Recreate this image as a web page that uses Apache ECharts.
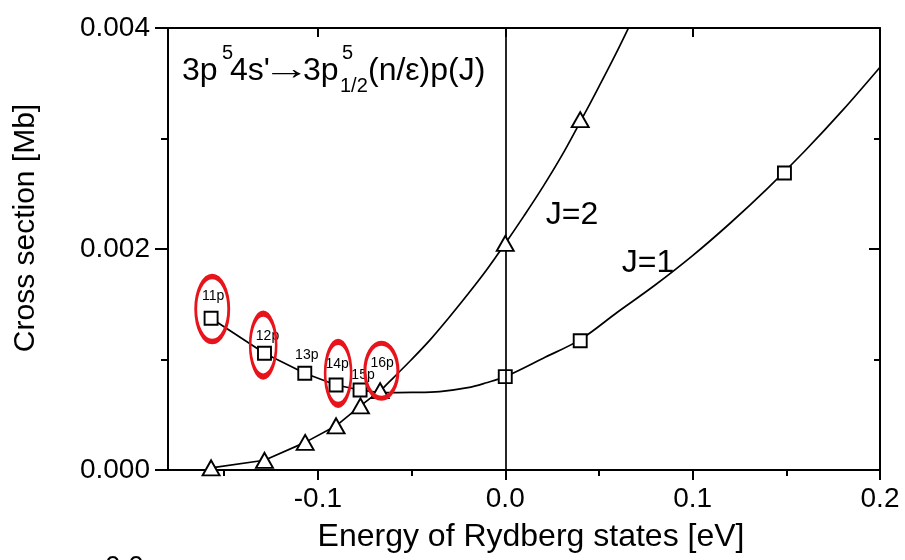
<!DOCTYPE html>
<html>
<head>
<meta charset="utf-8">
<script src="https://cdn.jsdelivr.net/npm/echarts@6/dist/echarts.min.js"></script>
<style>
  html, body { margin: 0; padding: 0; background: #fff; }
  #chart { width: 905px; height: 560px; }
</style>
</head>
<body>
<div id="chart"></div>
<script>
// ---- data ----
const j1Energy = [-0.157, -0.1285, -0.107, -0.0903, -0.0775, 0.0, 0.04, 0.149];
const j1Cross  = [0.001373, 0.001056, 0.000875, 0.000769, 0.000724, 0.000845, 0.00117, 0.002688];
const j1States = ['11p', '12p', '13p', '14p', '15p', '', '', ''];

const j2Energy = [-0.157, -0.1285, -0.1068, -0.0903, -0.0773, -0.0668, 0.0, 0.04];
const j2Cross  = [0.00002, 0.000088, 0.00025, 0.0004, 0.00058, 0.000718, 0.00205, 0.00317];
const j2States = ['', '', '', '', '', '16p', '', ''];

const j1FitEnergy = [-0.067, -0.05, -0.035, -0.02, -0.01, 0.0, 0.02, 0.04, 0.06, 0.08, 0.1, 0.12, 0.14, 0.16, 0.18, 0.2];
const j1FitCross  = [0.0007, 0.000702, 0.00071, 0.000745, 0.00079, 0.000845, 0.00101, 0.00118, 0.00143, 0.001674, 0.00194, 0.002233, 0.002549, 0.002889, 0.003254, 0.003645];

const j2FitEnergy = [-0.067, -0.06, -0.05, -0.04, -0.03, -0.02, -0.01, 0.0, 0.01, 0.02, 0.03, 0.04, 0.05, 0.06, 0.07];
const j2FitCross  = [0.00071, 0.00083, 0.001, 0.00118, 0.00138, 0.00159, 0.00181, 0.00205, 0.0023, 0.00256, 0.00284, 0.00315, 0.00347, 0.0038, 0.00415];

// highlighted states (red ellipses), centres in data units
const circledStates = ['11p', '12p', '14p', '16p'];
const circledEnergy = [-0.1564, -0.1292, -0.0892, -0.0661];
const circledCross  = [0.001457, 0.001131, 0.000875, 0.000898];

const xTickValues = [-0.1, 0.0, 0.1, 0.2];
const xMinorTickValues = [-0.15, -0.05, 0.05, 0.15];
const xTopTickValues = [-0.1, 0.0, 0.1];

// ---- styles ----
const FONT = "'Liberation Sans', Arial, Helvetica, sans-serif";
const BLACK = '#000';
const RED = '#e8141c';
const j1LabelOffsets = [[2, -6], [3, -1], [2, -2], [1, -4], [3, 2], [0, 0], [0, 0], [0, 0]];
const j2LabelOffsets = [[0, 0], [0, 0], [0, 0], [0, 0], [0, 0], [2, -10], [0, 0], [0, 0]];
const ellipseSizes = [[33, 65], [26, 63], [26, 63], [33, 55]];

const zip = (xs, ys) => xs.map((x, i) => [x, ys[i]]);

const j1Link = zip(j1Energy, j1Cross).filter(p => p[0] < -0.07).concat([[j1FitEnergy[0], j1FitCross[0]]]);
const j2Link = zip(j2Energy, j2Cross).filter(p => p[0] < -0.06);

const markerData = (xs, ys, names, offsets) => xs.map((x, i) => ({
  value: [x, ys[i]],
  label: names[i] ? { show: true, formatter: names[i], offset: offsets[i] } : { show: false }
}));

const chart = echarts.init(document.getElementById('chart'), null, { renderer: 'canvas' });

const xMin = -0.18, xMax = 0.2;
const axisLineStyle = { color: BLACK, width: 2 };

const option = {
  backgroundColor: '#fff',
  animation: false,
  textStyle: { fontFamily: FONT },
  grid: { left: 168, right: 25, top: 28, bottom: 90, containLabel: false },
  xAxis: [
    {
      type: 'value', position: 'bottom', min: xMin, max: xMax,
      axisLine: { show: true, onZero: false, lineStyle: axisLineStyle },
      axisTick: { show: true, customValues: xTickValues, length: 10, inside: false, lineStyle: axisLineStyle },
      axisLabel: {
        show: true, customValues: xTickValues, margin: 15,
        fontSize: 28, color: BLACK, fontFamily: FONT,
        formatter: v => Number(v).toFixed(1)
      },
      splitLine: { show: false }
    },
    {
      type: 'value', position: 'bottom', min: xMin, max: xMax,
      axisLine: { show: false },
      axisTick: { show: true, customValues: xMinorTickValues, length: 6, inside: false, lineStyle: axisLineStyle },
      axisLabel: { show: false },
      splitLine: { show: false }
    },
    {
      type: 'value', position: 'top', min: xMin, max: xMax,
      axisLine: { show: true, onZero: false, lineStyle: axisLineStyle },
      axisTick: { show: true, customValues: xTopTickValues, length: 9, inside: true, lineStyle: axisLineStyle },
      axisLabel: { show: false },
      splitLine: { show: false }
    },
    {
      type: 'value', position: 'top', min: xMin, max: xMax,
      axisLine: { show: false },
      axisTick: { show: true, customValues: xMinorTickValues, length: 6, inside: true, lineStyle: axisLineStyle },
      axisLabel: { show: false },
      splitLine: { show: false }
    }
  ],
  yAxis: [
    {
      type: 'value', position: 'left', min: 0, max: 0.004, interval: 0.002,
      axisLine: { show: true, onZero: false, lineStyle: axisLineStyle },
      axisTick: { show: true, length: 13, inside: false, lineStyle: axisLineStyle },
      minorTick: { show: true, splitNumber: 2, length: 7, lineStyle: axisLineStyle },
      axisLabel: {
        show: true, margin: 18, fontSize: 28, color: BLACK, fontFamily: FONT,
        formatter: v => Number(v).toFixed(3)
      },
      splitLine: { show: false }, minorSplitLine: { show: false }
    },
    {
      type: 'value', position: 'right', min: 0, max: 0.004, interval: 0.002,
      axisLine: { show: true, onZero: false, lineStyle: axisLineStyle },
      axisTick: { show: true, length: 11, inside: true, lineStyle: axisLineStyle },
      minorTick: { show: true, splitNumber: 2, length: 6, lineStyle: axisLineStyle },
      axisLabel: { show: false },
      splitLine: { show: false }, minorSplitLine: { show: false }
    }
  ],
  series: [
    {
      name: 'J=1 fit', type: 'line', xAxisIndex: 0, yAxisIndex: 0,
      data: zip(j1FitEnergy, j1FitCross), smooth: 0.35, symbol: 'none',
      lineStyle: { color: BLACK, width: 1.7 }, z: 2,
      markLine: {
        silent: true, symbol: ['none', 'none'], label: { show: false },
        lineStyle: { color: BLACK, width: 1.7, type: 'solid' },
        data: [{ xAxis: 0 }]
      }
    },
    {
      name: 'J=2 fit', type: 'line', xAxisIndex: 0, yAxisIndex: 0,
      data: zip(j2FitEnergy, j2FitCross), smooth: 0.35, symbol: 'none', clip: true,
      lineStyle: { color: BLACK, width: 1.7 }, z: 2
    },
    {
      name: 'J=1 link', type: 'line', xAxisIndex: 0, yAxisIndex: 0,
      data: j1Link, symbol: 'none', lineStyle: { color: BLACK, width: 1.7 }, z: 2
    },
    {
      name: 'J=2 link', type: 'line', xAxisIndex: 0, yAxisIndex: 0,
      data: j2Link, symbol: 'none', lineStyle: { color: BLACK, width: 1.7 }, z: 2
    },
    {
      name: 'J=1', type: 'scatter', xAxisIndex: 0, yAxisIndex: 0,
      symbol: 'rect', symbolSize: 13,
      itemStyle: { color: '#fff', borderColor: BLACK, borderWidth: 1.9, opacity: 1 },
      label: { position: 'top', distance: 2, fontSize: 14, color: BLACK, fontFamily: FONT },
      data: markerData(j1Energy, j1Cross, j1States, j1LabelOffsets), z: 4
    },
    {
      name: 'J=2', type: 'scatter', xAxisIndex: 0, yAxisIndex: 0,
      symbol: 'triangle', symbolSize: [17, 15],
      itemStyle: { color: '#fff', borderColor: BLACK, borderWidth: 1.9, opacity: 1 },
      label: { position: 'top', distance: 2, fontSize: 14, color: BLACK, fontFamily: FONT },
      data: markerData(j2Energy, j2Cross, j2States, j2LabelOffsets), z: 5
    },
    {
      name: 'circled states', type: 'scatter', xAxisIndex: 0, yAxisIndex: 0,
      symbol: 'circle',
      itemStyle: { color: 'rgba(0,0,0,0)', borderColor: RED, borderWidth: 4, opacity: 1 },
      data: circledEnergy.map((x, i) => ({ name: circledStates[i], value: [x, circledCross[i]], symbolSize: ellipseSizes[i] })),
      z: 6, silent: true
    }
  ],
  graphic: [
    { type: 'text', x: 26, y: 228, rotation: Math.PI / 2,
      style: { text: 'Cross section [Mb]', fontSize: 30, fontFamily: FONT, fill: BLACK, textAlign: 'center', textVerticalAlign: 'middle' } },
    { type: 'text', x: 531, y: 537,
      style: { text: 'Energy of Rydberg states [eV]', fontSize: 32, fontFamily: FONT, fill: BLACK, textAlign: 'center', textVerticalAlign: 'middle' } },
    { type: 'text', x: 105, y: 553,
      style: { text: '0.0', fontSize: 28, fontFamily: FONT, fill: BLACK, textAlign: 'left', textVerticalAlign: 'top' } },
    { type: 'text', x: 572, y: 215,
      style: { text: 'J=2', fontSize: 32, fontFamily: FONT, fill: BLACK, textAlign: 'center', textVerticalAlign: 'middle' } },
    { type: 'text', x: 648, y: 263,
      style: { text: 'J=1', fontSize: 32, fontFamily: FONT, fill: BLACK, textAlign: 'center', textVerticalAlign: 'middle' } },
    // transition annotation: 3p^5 4s' -> 3p^5_{1/2} (n/ε) p (J)
    { type: 'text', x: 182, y: 71, style: { text: '3p', fontSize: 32, fontFamily: FONT, fill: BLACK, textAlign: 'left', textVerticalAlign: 'middle' } },
    { type: 'text', x: 222, y: 53, style: { text: '5', fontSize: 20, fontFamily: FONT, fill: BLACK, textAlign: 'left', textVerticalAlign: 'middle' } },
    { type: 'text', x: 230, y: 71, style: { text: "4s'", fontSize: 32, fontFamily: FONT, fill: BLACK, textAlign: 'left', textVerticalAlign: 'middle' } },
    { type: 'text', x: 262, y: 70, scaleX: 1.5, style: { text: '\u2192', fontSize: 32, fontFamily: FONT, fill: BLACK, textAlign: 'left', textVerticalAlign: 'middle' } },
    { type: 'text', x: 303, y: 71, style: { text: '3p', fontSize: 32, fontFamily: FONT, fill: BLACK, textAlign: 'left', textVerticalAlign: 'middle' } },
    { type: 'text', x: 342, y: 53, style: { text: '5', fontSize: 20, fontFamily: FONT, fill: BLACK, textAlign: 'left', textVerticalAlign: 'middle' } },
    { type: 'text', x: 340, y: 86, style: { text: '1/2', fontSize: 20, fontFamily: FONT, fill: BLACK, textAlign: 'left', textVerticalAlign: 'middle' } },
    { type: 'text', x: 368, y: 71, style: { text: '(n/\u03b5)p(J)', fontSize: 32, fontFamily: FONT, fill: BLACK, textAlign: 'left', textVerticalAlign: 'middle' } }
  ]
};

chart.setOption(option);
</script>
</body>
</html>
